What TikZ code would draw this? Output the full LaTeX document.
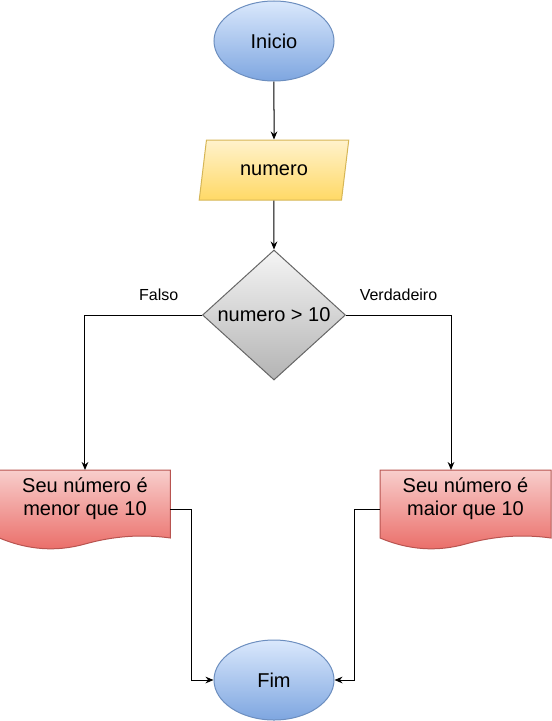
\documentclass[tikz,border=0pt]{standalone}
\usepackage{fontspec}
\setmainfont{Liberation Sans}
\usetikzlibrary{shapes.geometric,arrows.meta,positioning,backgrounds}
\definecolor{bluetop}{HTML}{DAE8FC}
\definecolor{bluebot}{HTML}{7EA6E0}
\definecolor{blueline}{HTML}{6C8EBF}
\definecolor{yellowtop}{HTML}{FFF2CC}
\definecolor{yellowbot}{HTML}{FFD966}
\definecolor{yellowline}{HTML}{D6B656}
\definecolor{graytop}{HTML}{F5F5F5}
\definecolor{graybot}{HTML}{B3B3B3}
\definecolor{grayline}{HTML}{666666}
\definecolor{redtop}{HTML}{F8CECC}
\definecolor{redbot}{HTML}{EA6B66}
\definecolor{redline}{HTML}{B85450}
\tikzstyle{startstop} = [ellipse, draw=blueline, line width=0.75pt, top color=bluetop, bottom color=bluebot, text=black, font=\fontsize{15}{18}\selectfont, minimum width=90pt, minimum height=60pt, inner sep=0pt]
\tikzstyle{io} = [trapezium, trapezium left angle=71.6, trapezium right angle=108.4, trapezium stretches, draw=yellowline, line width=0.75pt, top color=yellowtop, bottom color=yellowbot, text=black, font=\fontsize{15}{18}\selectfont, minimum width=112.5pt, minimum height=45pt, inner sep=0pt]
\tikzstyle{decision} = [diamond, draw=grayline, line width=0.75pt, top color=graytop, bottom color=graybot, text=black, font=\fontsize{15}{18}\selectfont, minimum width=107.25pt, minimum height=97.5pt, inner sep=0pt]
\tikzstyle{doc} = [rectangle, draw=none, align=center, text=black, font=\fontsize{15}{17.5}\selectfont, text depth=11pt, minimum width=128.25pt, minimum height=51pt, inner sep=0pt, outer sep=0pt]
\tikzstyle{docfill} = [draw=redline, line width=0.75pt, top color=redtop, bottom color=redbot]
\tikzstyle{textonly} = [draw=none, fill=none, text centered, text=black, font=\fontsize{12}{14}\selectfont]
\tikzstyle{tedge} = [draw, line width=0.75pt, -{Stealth[length=6pt,width=5pt]}]
% wavy bottom of a document node
\newcommand{\docshade}[1]{\shade[docfill] (#1.north west) -- (#1.north east) -- (#1.south east)
  .. controls ([xshift=106.875pt,yshift=3pt]#1.south west) and ([xshift=85.5pt,yshift=1.5pt]#1.south west) .. ([xshift=64.125pt,yshift=-4.5pt]#1.south west)
  .. controls ([xshift=42.75pt,yshift=-10.5pt]#1.south west) and ([xshift=21.375pt,yshift=-9pt]#1.south west) .. (#1.south west) -- cycle;}

\begin{document}
\begin{tikzpicture}[auto]
\useasboundingbox (-205.5pt,30.75pt) rectangle (207.75pt,-510pt);
%nodes=========================

\node[startstop] (inicio) {Inicio};
\node[io, below=43.5pt of inicio] (numero) {numero};
\node[decision, below=36.75pt of numero] (dec) {numero > 10};
\coordinate[left=87.75pt of dec.west] (cf);
\coordinate[right=78.75pt of dec.east] (cv);
\node[doc, below=116.25pt of cf] (menor) {Seu número é\\menor que 10};
\node[doc, below=116.25pt of cv, xshift=10.9pt] (maior) {Seu número é\\maior que 10};
\node[startstop, below=194.25pt of dec] (fim) {Fim};

\begin{scope}[on background layer]
\docshade{menor}
\docshade{maior}
\end{scope}

% edges
\path[tedge] (inicio) edge (numero);
\path[tedge] (numero) edge (dec);
\path[tedge] (dec.west) -- node[textonly, pos=0.37, above=7pt] {Falso} (cf) -- (menor);
\path[tedge] (dec.east) -- node[textonly, above=7pt] {Verdadeiro} (cv) -- (cv |- maior.north);
\path[tedge] (menor.-4) -- ++(16.1pt,0) |- (fim);
\path[tedge] (maior.184) -- ++(-19.5pt,0) |- (fim);

\end{tikzpicture}
\end{document}
